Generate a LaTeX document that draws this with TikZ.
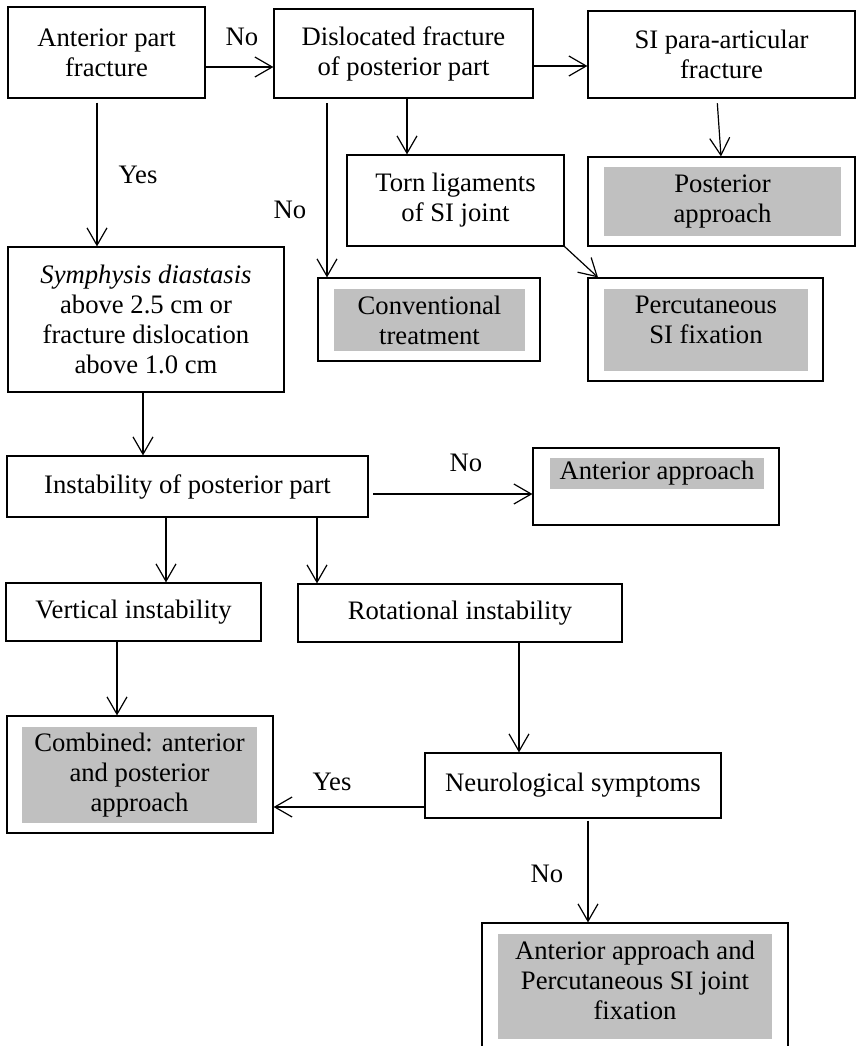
\documentclass[tikz,border=0pt]{standalone}
\usepackage{fontspec}
\setmainfont{Liberation Serif}
\usetikzlibrary{arrows.meta}
\definecolor{shade}{HTML}{C0C0C0}
\begin{document}
\begin{tikzpicture}[x=0.75pt,y=-0.75pt,
  box/.style={draw, line width=0.9pt, inner sep=0pt, align=center, font=\fontsize{20}{22.5}\selectfont},
  graybox/.style={fill=shade, inner sep=0pt, align=center, font=\fontsize{20}{22.5}\selectfont},
  txt/.style={inner sep=0pt, align=center, font=\fontsize{20}{22.5}\selectfont},
  arr/.style={line width=0.9pt, -{Straight Barb[length=13pt,width=15pt,line width=0.9pt]}}
]
\useasboundingbox (0,0) rectangle (857,1046);
% top row
\node[box, minimum width=147.75pt, minimum height=68.25pt] (A) at (106.5,52.5) {Anterior part\\fracture};
\node[box, minimum width=194.25pt, minimum height=66.75pt] (D) at (403.5,53.5) {Dislocated fracture\\of posterior part};
\node[box, minimum width=200.25pt, minimum height=65.25pt] (S) at (721.5,54.5) {SI para-articular\\fracture};
\node[box, minimum width=162.75pt, minimum height=68.25pt] (T) at (455.5,200.5) {Torn ligaments\\of SI joint};
% posterior approach
\node[box, minimum width=200.25pt, minimum height=66.75pt] (P) at (721.5,201.5) {};
\node[graybox, minimum width=177.75pt, minimum height=51.75pt] (Pg) at (722.5,201.5) {Posterior\\approach};
% conventional treatment
\node[box, minimum width=166.5pt, minimum height=62.25pt] (C) at (429,319.5) {};
\node[graybox, minimum width=143.25pt, minimum height=46.5pt] (Cg) at (429.5,320) {Conventional\\treatment};
% percutaneous SI fixation
\node[box, minimum width=176.25pt, minimum height=77.25pt] (F) at (705.5,329.5) {};
\node[graybox, minimum width=153pt, minimum height=61.5pt] (Fg) at (706,330) {};
\node[txt] (Ft) at (706,320) {Percutaneous\\SI fixation};
% symphysis
\node[box, minimum width=207pt, minimum height=108.75pt] (Sy) at (146,319.5) {\textit{Symphysis diastasis}\\above 2.5 cm or\\fracture dislocation\\above 1.0 cm};
% instability
\node[box, minimum width=270.75pt, minimum height=45.75pt] (I) at (187.5,486.5) {Instability of posterior part};
% anterior approach
\node[box, minimum width=184.5pt, minimum height=57.75pt] (AA) at (656,486.5) {};
\node[graybox, minimum width=160.5pt, minimum height=23.25pt] (AAg) at (657,473.5) {Anterior approach};
% vertical / rotational
\node[box, minimum width=191.25pt, minimum height=43.5pt] (V) at (133.5,612) {Vertical instability};
\node[box, minimum width=243pt, minimum height=43.5pt] (R) at (460,613) {Rotational instability};
% combined
\node[box, minimum width=199.5pt, minimum height=87.75pt] (Co) at (140,774.5) {};
\node[graybox, minimum width=176.25pt, minimum height=72pt] (Cog) at (139.5,775) {Combined: anterior\\and posterior\\approach};
% neurological
\node[box, minimum width=222pt, minimum height=48.75pt] (N) at (573,785.5) {Neurological symptoms};
% last
\node[box, minimum width=229.5pt, minimum height=102.75pt] (L) at (635,991.5) {};
\node[graybox, minimum width=205.5pt, minimum height=78.75pt] (Lg) at (635,986.5) {};
\node[txt] (Lt) at (635,980) {Anterior approach and\\Percutaneous SI joint\\fixation};
% labels
\node[txt] (l1) at (242,37) {No};
\node[txt] (l2) at (138,175) {Yes};
\node[txt] (l3) at (290,210) {No};
\node[txt] (l4) at (466,463) {No};
\node[txt] (l5) at (332,782) {Yes};
\node[txt] (l6) at (547,874) {No};
% arrows
\draw[arr] (A.east |- 0,67) -- (D.west |- 0,67);
\draw[arr, shorten <=3pt] (A.south -| 97,0) -- (Sy.north -| 97,0);
\draw[arr] (D.east |- 0,66) -- (S.west |- 0,66);
\draw[arr] (D.south -| 407,0) -- (T.north -| 407,0);
\draw[arr, shorten <=3.5pt] (D.south -| 327,0) -- (C.north -| 327,0);
\draw[arr, shorten <=3.5pt] (S.south -| 717,0) -- (P.north -| 721,0);
\draw[arr] (T.south east) -- (F.north -| 598,0);
\draw[arr] (Sy.south -| 143,0) -- (I.north -| 143,0);
\draw[arr, shorten <=3.5pt] (I.east |- 0,494) -- (AA.west |- 0,494);
\draw[arr] (I.south -| 166,0) -- (V.north -| 166,0);
\draw[arr] (I.south -| 317,0) -- (R.north -| 317,0);
\draw[arr] (V.south -| 117,0) -- (Co.north -| 117,0);
\draw[arr] (R.south -| 519,0) -- (N.north -| 519,0);
\draw[arr] (N.west |- 0,807) -- (Co.east |- 0,807);
\draw[arr, shorten <=1.5pt] (N.south -| 588,0) -- (L.north -| 588,0);
\end{tikzpicture}
\end{document}
